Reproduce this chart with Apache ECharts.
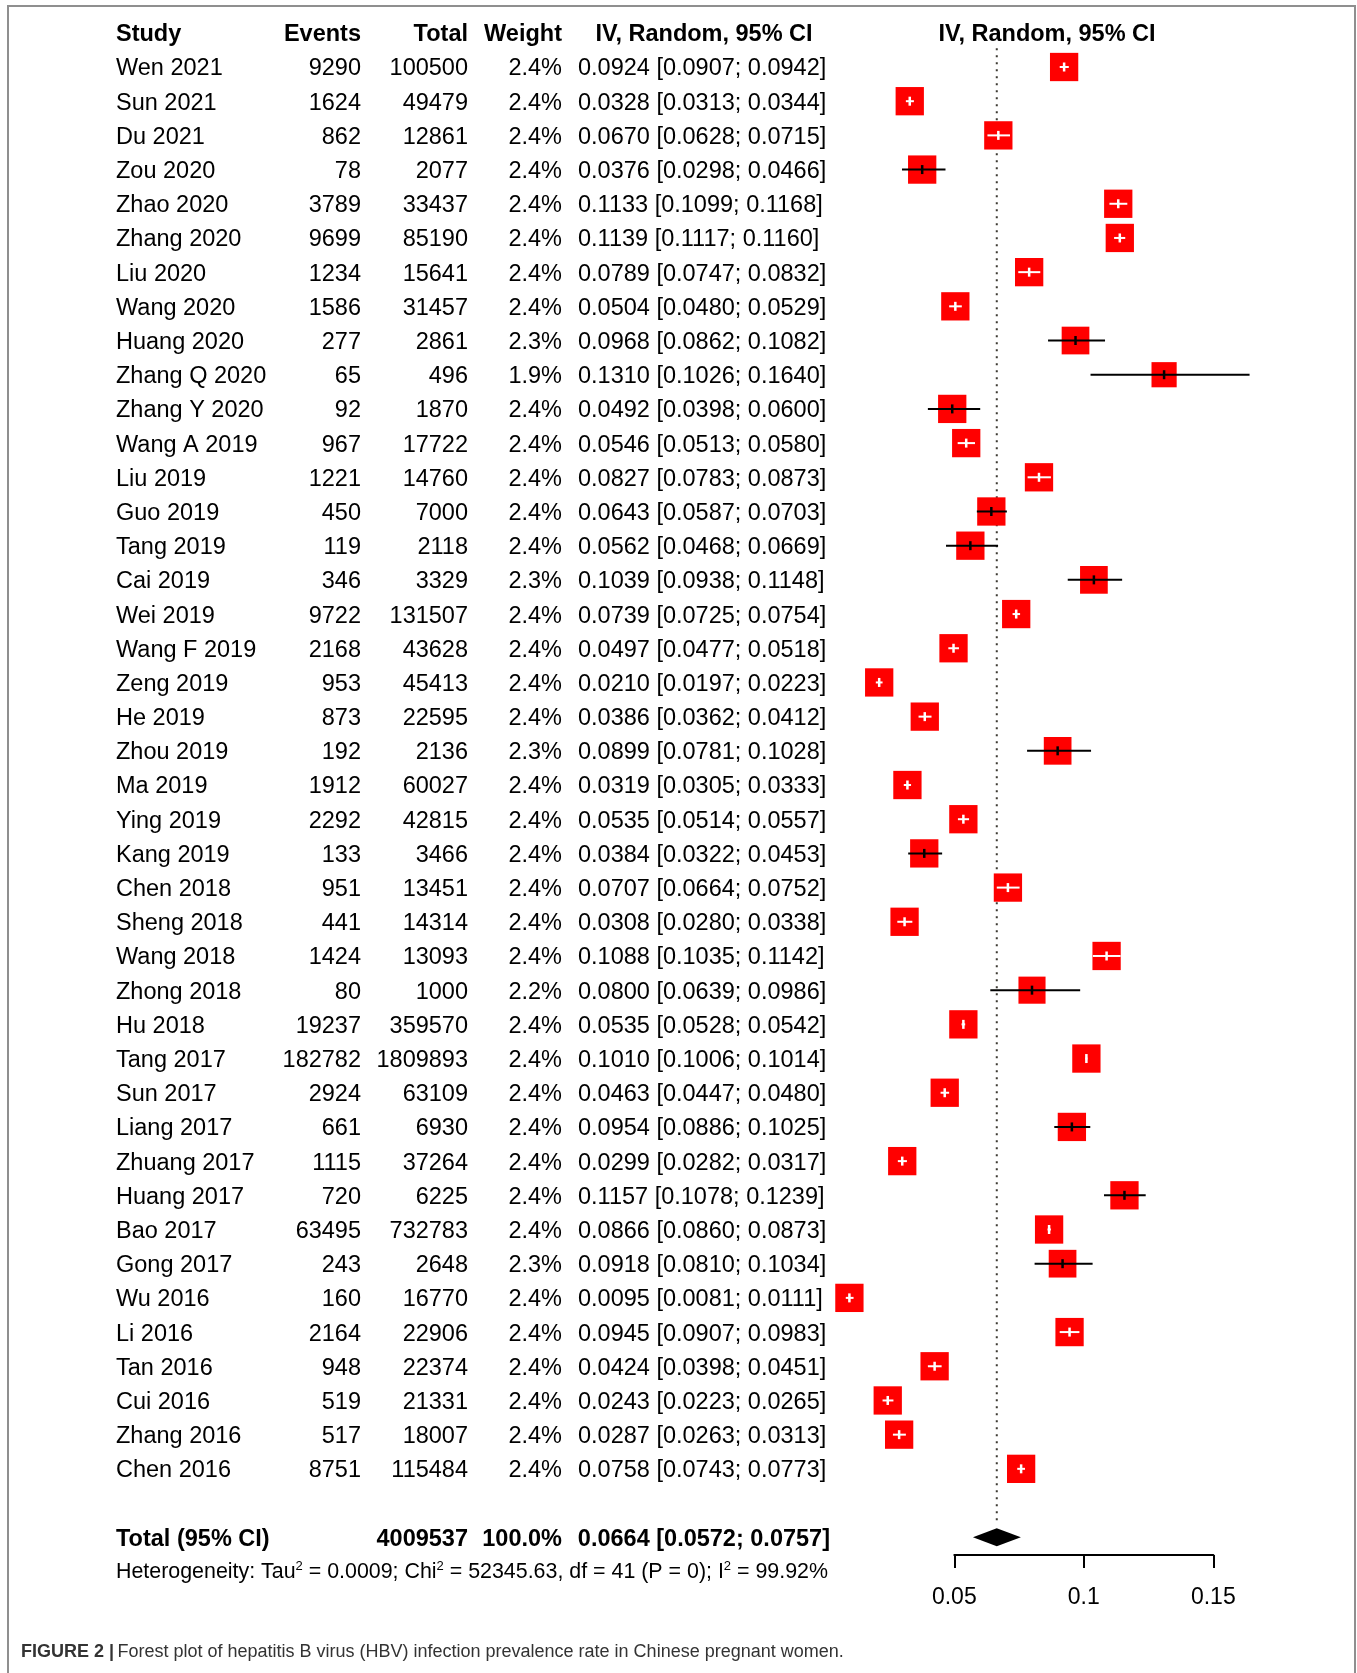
<!DOCTYPE html>
<html><head><meta charset="utf-8">
<script src="https://cdn.jsdelivr.net/npm/echarts@6/dist/echarts.min.js"></script>
<style>html,body{margin:0;padding:0;background:#fff}#c{width:1357px;height:1673px}</style>
</head><body><div id="c"></div>
<script>
// ---------------- data ----------------
const studies = ['Wen 2021','Sun 2021','Du 2021','Zou 2020','Zhao 2020','Zhang 2020','Liu 2020','Wang 2020','Huang 2020','Zhang Q 2020','Zhang Y 2020','Wang A 2019','Liu 2019','Guo 2019','Tang 2019','Cai 2019','Wei 2019','Wang F 2019','Zeng 2019','He 2019','Zhou 2019','Ma 2019','Ying 2019','Kang 2019','Chen 2018','Sheng 2018','Wang 2018','Zhong 2018','Hu 2018','Tang 2017','Sun 2017','Liang 2017','Zhuang 2017','Huang 2017','Bao 2017','Gong 2017','Wu 2016','Li 2016','Tan 2016','Cui 2016','Zhang 2016','Chen 2016'];
const events = [9290,1624,862,78,3789,9699,1234,1586,277,65,92,967,1221,450,119,346,9722,2168,953,873,192,1912,2292,133,951,441,1424,80,19237,182782,2924,661,1115,720,63495,243,160,2164,948,519,517,8751];
const totals = [100500,49479,12861,2077,33437,85190,15641,31457,2861,496,1870,17722,14760,7000,2118,3329,131507,43628,45413,22595,2136,60027,42815,3466,13451,14314,13093,1000,359570,1809893,63109,6930,37264,6225,732783,2648,16770,22906,22374,21331,18007,115484];
const weights = [2.4,2.4,2.4,2.4,2.4,2.4,2.4,2.4,2.3,1.9,2.4,2.4,2.4,2.4,2.4,2.3,2.4,2.4,2.4,2.4,2.3,2.4,2.4,2.4,2.4,2.4,2.4,2.2,2.4,2.4,2.4,2.4,2.4,2.4,2.4,2.3,2.4,2.4,2.4,2.4,2.4,2.4];
const estimates = [0.0924,0.0328,0.0670,0.0376,0.1133,0.1139,0.0789,0.0504,0.0968,0.1310,0.0492,0.0546,0.0827,0.0643,0.0562,0.1039,0.0739,0.0497,0.0210,0.0386,0.0899,0.0319,0.0535,0.0384,0.0707,0.0308,0.1088,0.0800,0.0535,0.1010,0.0463,0.0954,0.0299,0.1157,0.0866,0.0918,0.0095,0.0945,0.0424,0.0243,0.0287,0.0758];
const lowers = [0.0907,0.0313,0.0628,0.0298,0.1099,0.1117,0.0747,0.0480,0.0862,0.1026,0.0398,0.0513,0.0783,0.0587,0.0468,0.0938,0.0725,0.0477,0.0197,0.0362,0.0781,0.0305,0.0514,0.0322,0.0664,0.0280,0.1035,0.0639,0.0528,0.1006,0.0447,0.0886,0.0282,0.1078,0.0860,0.0810,0.0081,0.0907,0.0398,0.0223,0.0263,0.0743];
const uppers = [0.0942,0.0344,0.0715,0.0466,0.1168,0.1160,0.0832,0.0529,0.1082,0.1640,0.0600,0.0580,0.0873,0.0703,0.0669,0.1148,0.0754,0.0518,0.0223,0.0412,0.1028,0.0333,0.0557,0.0453,0.0752,0.0338,0.1142,0.0986,0.0542,0.1014,0.0480,0.1025,0.0317,0.1239,0.0873,0.1034,0.0111,0.0983,0.0451,0.0265,0.0313,0.0773];
const pooled = [0.0664, 0.0572, 0.0757];          // estimate, lower, upper
const totalSummary = [4009537, 100.0];             // total N, total weight
const hetStats = ['0.0009', '52345.63', '41', '0', '99.92'];
const headerLabels = ['Study', 'Events', 'Total', 'Weight', 'IV, Random, 95% CI'];
const xTicks = [0.05, 0.1, 0.15];

// ---------------- layout ----------------
const FONT = '"Liberation Sans", Arial, Helvetica, sans-serif';
const FS = 23.5;
const DY = 2;   // text baseline nudge
const COL = { study: 116, events: 361, total: 468, weight: 562, ciLeft: 578, ciRight: 830, ciHead: 704, plotHead: 1047 };
const TOTAL_ROW = studies.length + 1;
const HET_ROW = studies.length + 2;
const fmt4 = v => v.toFixed(4);
const ciText = (e, l, u) => fmt4(e) + ' [' + fmt4(l) + '; ' + fmt4(u) + ']';

function txt(x, y, s, align, bold, size) {
  return { type: 'text', style: { x: x, y: y + DY, text: s, align: align, verticalAlign: 'middle',
    fontFamily: FONT, fontSize: size || FS, fontWeight: bold ? 'bold' : 'normal', fill: '#000' } };
}

const chart = echarts.init(document.getElementById('c'), null, { renderer: 'canvas' });
chart.setOption({
  backgroundColor: '#fff',
  animation: false,
  grid: { left: 954.3, top: 32.81, width: 259, height: 1522.19, containLabel: false },
  xAxis: {
    type: 'value', min: 0.05, max: 0.15, interval: 0.05, position: 'bottom',
    axisLine: { show: true, onZero: false, lineStyle: { color: '#000', width: 2 } },
    axisTick: { show: true, length: 13, inside: false, lineStyle: { color: '#000', width: 2 } },
    axisLabel: { show: true, margin: 31, fontSize: 23, fontFamily: FONT, color: '#000',
      showMinLabel: true, showMaxLabel: true, formatter: v => String(+v.toFixed(2)) },
    splitLine: { show: false }
  },
  yAxis: { type: 'value', inverse: true, min: -1, max: 43.52, show: false },
  graphic: [
    { type: 'polyline', silent: true, shape: { points: [[8, 1690], [8, 6], [1355, 6], [1355, 1690]] },
      style: { stroke: '#8f8f8f', lineWidth: 2, fill: null } },
    { type: 'text', left: 21, top: 1643, silent: true,
      style: { text: '{b|FIGURE 2 |} {r|Forest plot of hepatitis B virus (HBV) infection prevalence rate in Chinese pregnant women.}',
        rich: { b: { fontFamily: FONT, fontSize: 18, fontWeight: 'bold', fill: '#333' },
                r: { fontFamily: FONT, fontSize: 18, fill: '#333' } } } }
  ],
  series: [
    { // headers
      type: 'custom', clip: false, silent: true,
      data: [[0.1, -1]],
      renderItem: (params, api) => {
        const y = api.coord([0.1, api.value(1)])[1];
        return { type: 'group', children: [
          txt(COL.study, y, headerLabels[0], 'left', true),
          txt(COL.events, y, headerLabels[1], 'right', true),
          txt(COL.total, y, headerLabels[2], 'right', true),
          txt(COL.weight, y, headerLabels[3], 'right', true),
          txt(COL.ciHead, y, headerLabels[4], 'center', true),
          txt(COL.plotHead, y, headerLabels[4], 'center', true)
        ] };
      }
    },
    { // study table text
      type: 'custom', clip: false, silent: true,
      data: studies.map((s, i) => [0.1, i]),
      renderItem: (params, api) => {
        const i = params.dataIndex;
        const y = api.coord([0.1, api.value(1)])[1];
        return { type: 'group', children: [
          txt(COL.study, y, studies[i], 'left'),
          txt(COL.events, y, String(events[i]), 'right'),
          txt(COL.total, y, String(totals[i]), 'right'),
          txt(COL.weight, y, weights[i].toFixed(1) + '%', 'right'),
          txt(COL.ciLeft, y, ciText(estimates[i], lowers[i], uppers[i]), 'left')
        ] };
      }
    },
    { // reference dotted line at pooled estimate
      type: 'custom', clip: false, silent: true, z: 1,
      data: [[pooled[0], -0.55, 42.6]],
      renderItem: (params, api) => {
        const a = api.coord([api.value(0), api.value(1)]);
        const b = api.coord([api.value(0), api.value(2)]);
        return { type: 'line', shape: { x1: a[0], y1: a[1], x2: b[0], y2: b[1] },
          style: { stroke: '#3d3a33', lineWidth: 2, lineDash: [2, 5] } };
      }
    },
    { // forest squares + CIs
      type: 'custom', clip: false, silent: true, z: 3,
      data: estimates.map((e, i) => [e, lowers[i], uppers[i], i, weights[i]]),
      encode: { x: 0, y: 3 },
      renderItem: (params, api) => {
        const row = api.value(3);
        const p = api.coord([api.value(0), row]);
        const lo = api.coord([api.value(1), row])[0];
        const hi = api.coord([api.value(2), row])[0];
        const side = 28.3 * Math.sqrt(api.value(4) / 2.4);
        const inside = lo >= p[0] - side / 2 && hi <= p[0] + side / 2;
        const col = inside ? '#ffffff' : '#000000';
        return { type: 'group', children: [
          { type: 'rect', shape: { x: p[0] - side / 2, y: p[1] - side / 2, width: side, height: side },
            style: { fill: '#ff0000' } },
          { type: 'line', shape: { x1: lo, y1: p[1], x2: hi, y2: p[1] }, style: { stroke: col, lineWidth: 2 } },
          { type: 'line', shape: { x1: p[0], y1: p[1] - 4.5, x2: p[0], y2: p[1] + 4.5 }, style: { stroke: col, lineWidth: 2.5 } }
        ] };
      }
    },
    { // pooled diamond + total row + heterogeneity
      type: 'custom', clip: false, silent: true, z: 3,
      data: [[pooled[0], pooled[1], pooled[2], TOTAL_ROW]],
      renderItem: (params, api) => {
        const row = api.value(3);
        const c = api.coord([api.value(0), row]);
        const l = api.coord([api.value(1), row])[0];
        const r = api.coord([api.value(2), row])[0];
        const yh = api.coord([0.1, HET_ROW])[1] + 1;
        const n = { fontFamily: FONT, fontSize: 21.4, lineHeight: 24, fill: '#000' };
        const s = { fontFamily: FONT, fontSize: 13, lineHeight: 13, verticalAlign: 'top', fill: '#000' };
        const het = '{n|Heterogeneity: Tau}{s|2}{n| = ' + hetStats[0] + '; Chi}{s|2}{n| = ' + hetStats[1] +
          ', df = ' + hetStats[2] + ' (P = ' + hetStats[3] + '); I}{s|2}{n| = ' + hetStats[4] + '%}';
        return { type: 'group', children: [
          { type: 'polygon', shape: { points: [[l, c[1]], [c[0], c[1] - 9], [r, c[1]], [c[0], c[1] + 9]] },
            style: { fill: '#000' } },
          txt(COL.study, c[1], 'Total (95% CI)', 'left', true),
          txt(COL.total, c[1], String(totalSummary[0]), 'right', true),
          txt(COL.weight, c[1], totalSummary[1].toFixed(1) + '%', 'right', true),
          txt(COL.ciRight, c[1], ciText(pooled[0], pooled[1], pooled[2]), 'right', true),
          { type: 'text', style: { x: COL.study, y: yh, text: het, align: 'left', verticalAlign: 'middle', rich: { n: n, s: s } } }
        ] };
      }
    }
  ]
});
</script>
</body></html>
